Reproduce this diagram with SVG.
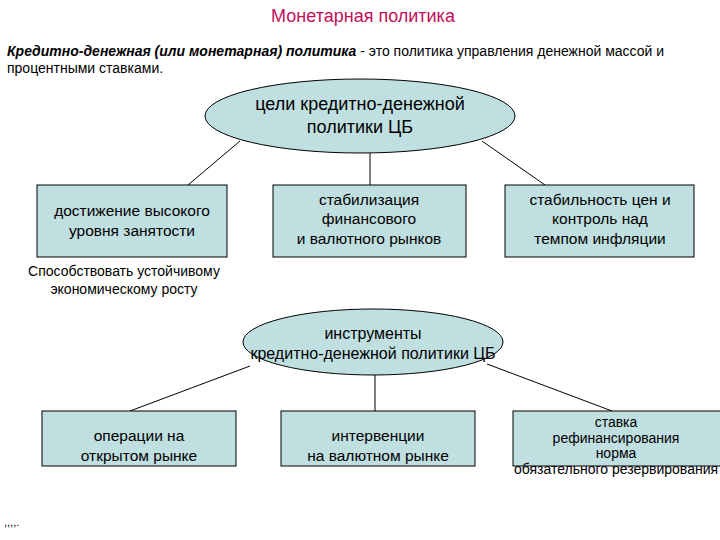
<svg xmlns="http://www.w3.org/2000/svg" width="720" height="540" viewBox="0 0 720 540">
<style>
text{font-family:"Liberation Sans",Arial,sans-serif;font-size:15.5px;fill:#000}
.n{fill:#c0dfe0;stroke:#000;stroke-width:1}
.c{text-anchor:middle}
.l{stroke:#000;stroke-width:1;fill:none}
</style>
<rect width="720" height="540" fill="#fff"/>
<text x="363" y="22" class="c" style="font-size:18px;fill:#c0105a">Монетарная политика</text>
<text x="7" y="56" style="font-size:14px"><tspan font-weight="bold" font-style="italic">Кредитно-денежная (или монетарная) политика</tspan> - это политика управления денежной массой и</text>
<text x="7" y="73" style="font-size:14px">процентными ставками.</text>
<g id="connectors">
<line class="l" x1="240" y1="141" x2="188" y2="185"/>
<line class="l" x1="370" y1="153" x2="370" y2="185"/>
<line class="l" x1="482" y1="141" x2="545" y2="185"/>
<line class="l" x1="250" y1="366" x2="130" y2="411"/>
<line class="l" x1="375" y1="375" x2="375" y2="411"/>
<line class="l" x1="487" y1="364" x2="612" y2="411"/>
</g>
<g id="goals"><ellipse class="n" cx="360" cy="116" rx="155" ry="37"/>
<text x="360" y="110" class="c" style="font-size:18px">цели кредитно-денежной</text>
<text x="360" y="133" class="c" style="font-size:18px">политики ЦБ</text></g>
<g id="g1"><rect class="n" x="37" y="185" width="190" height="72"/>
<text x="132" y="216" class="c">достижение высокого</text><text x="132" y="236" class="c">уровня занятости</text></g>
<g id="g2"><rect class="n" x="273" y="185" width="193" height="72"/>
<text x="369" y="205" class="c">стабилизация</text><text x="369" y="224" class="c">финансового</text><text x="369" y="244" class="c">и валютного рынков</text></g>
<g id="g3"><rect class="n" x="505" y="185" width="189" height="72"/>
<text x="600" y="205" class="c">стабильность цен и</text><text x="600" y="224" class="c">контроль над</text><text x="600" y="244" class="c">темпом инфляции</text></g>
<text x="124" y="276" class="c" style="font-size:14px">Способствовать устойчивому</text>
<text x="124" y="294" class="c" style="font-size:14px">экономическому росту</text>
<g id="tools"><ellipse class="n" cx="373" cy="342" rx="130" ry="33"/>
<text x="373" y="339" class="c" style="font-size:16px">инструменты</text><text x="373" y="359" class="c" style="font-size:16px">кредитно-денежной политики ЦБ</text></g>
<g id="t1"><rect class="n" x="42" y="411" width="194" height="55"/>
<text x="139" y="441" class="c">операции на</text><text x="139" y="461" class="c">открытом рынке</text></g>
<g id="t2"><rect class="n" x="281" y="411" width="194" height="55"/>
<text x="378" y="441" class="c">интервенции</text><text x="378" y="461" class="c">на валютном рынке</text></g>
<g id="t3"><rect class="n" x="513" y="411" width="210" height="55"/>
<text x="616" y="427" class="c" style="font-size:14px">ставка</text><text x="616" y="443" class="c" style="font-size:14px">рефинансирования</text><text x="616" y="458" class="c" style="font-size:14px">норма</text><text x="616" y="474" class="c" style="font-size:14px">обязательного резервирования</text></g>
<text x="4" y="526" style="font-size:11px">,,,,.</text>
</svg>
